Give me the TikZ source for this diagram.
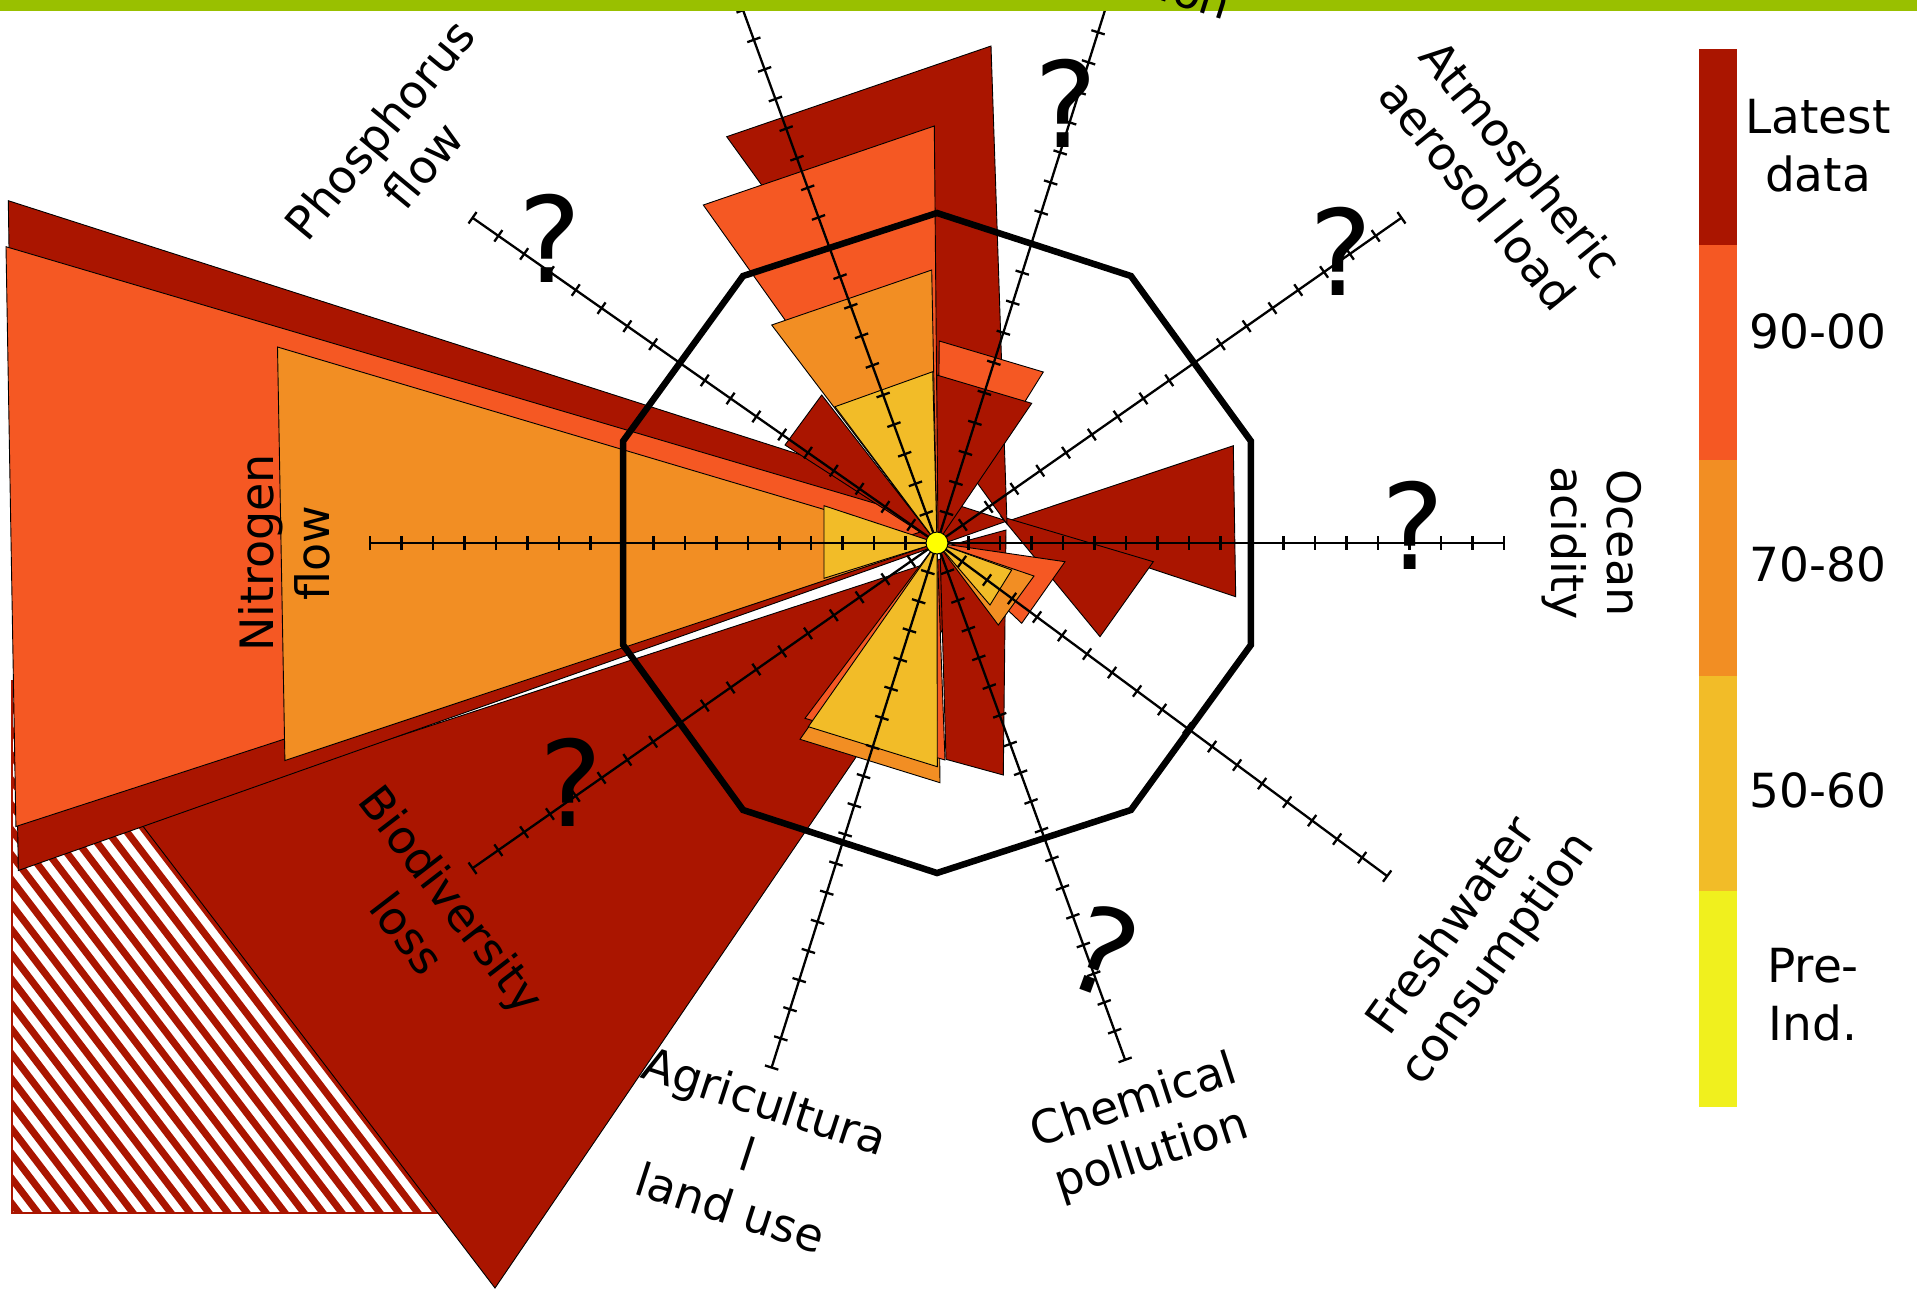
\documentclass[tikz,border=0pt]{standalone}
\usepackage{fontspec}
\setmainfont{DejaVu Sans}
\definecolor{cLat}{RGB}{170,21,0}
\definecolor{cNin}{RGB}{245,88,35}
\definecolor{cSev}{RGB}{242,142,35}
\definecolor{cFif}{RGB}{242,188,40}
\definecolor{cPre}{RGB}{240,240,30}
\definecolor{cDot}{RGB}{255,255,0}
\definecolor{cGreen}{RGB}{153,192,0}
\tikzset{
 wedge/.style={draw=black, line width=0.9pt, line join=miter},
 wLat/.style={wedge, fill=cLat},
 wNin/.style={wedge, fill=cNin},
 wSev/.style={wedge, fill=cSev},
 wFif/.style={wedge, fill=cFif},
 axisline/.style={draw=black, line width=2.3pt},
 boundary/.style={draw=black, line width=6.5pt, line join=miter},
 lab/.style={font=\fontsize{46}{56}\selectfont, align=center, inner sep=0pt},
 qmark/.style={font=\fontsize{119}{119}\selectfont, inner sep=0pt},
 legtext/.style={font=\fontsize{47}{58}\selectfont, align=center, inner sep=0pt},
}
\begin{document}
\begin{tikzpicture}[x=1pt,y=-1pt]
\useasboundingbox (0,0) rectangle (1917,1291);
\clip (0,0) rectangle (1917,1291);
\fill[white] (0,0) rectangle (1917,1291);
\coordinate (C) at (937,543);

% hatched area
\begin{scope}
 \clip (12,680) rectangle (440,1213);
 \foreach \b in {0,19,...,893} \draw[cLat, line width=7pt] ({\b+10},1226) -- ({\b-420},663);
\end{scope}
\draw[cLat, line width=2pt] (12,680) -- (12,1213) -- (440,1213);

% biodiversity
\draw[wLat] (1005,538) -- (495,1288) -- (139,821) -- cycle;
% nitrogen
\draw[wLat] (8.3,200.7) -- (1007,521) -- (18.3,870.5) -- cycle;
\draw[wNin] (6,246.7) -- (945,524) -- (15.9,826.5) -- cycle;
\draw[wSev] (277.5,347) -- (C) -- (284.9,760.5) -- cycle;
\draw[wFif] (824,505.7) -- (C) -- (824,578.3) -- cycle;
% ocean acidity
\draw[wLat] (1233.3,445.7) -- (1235.7,596.7) -- (1008,521) -- cycle;
% agricultural latest
\draw[wLat] (946,759.3) -- (1003.3,775) -- (1006,530) -- (940,548) -- cycle;
% freshwater
\draw[wLat] (1153.3,561.7) -- (1100,636.7) -- (1001,516.5) -- cycle;
\draw[wNin] (1065,561.7) -- (1021.7,623.3) -- (C) -- cycle;
\draw[wSev] (1034,576) -- (998.3,625) -- (C) -- cycle;
\draw[wFif] (1011.7,570) -- (990,605) -- (C) -- cycle;
% phosphorus
\draw[wLat] (821.7,395) -- (785,445) -- (C) -- cycle;
% top-left latest
\draw[wLat] (726.7,136.7) -- (991,46) -- (1007,524) -- cycle;
% top-right
\draw[wNin] (939.3,341) -- (1043.3,372) -- (C) -- cycle;
\draw[wLat] (936.7,375) -- (1031.7,403.3) -- (C) -- cycle;
% top-left older
\draw[wNin] (703.3,205) -- (934.3,126) -- (938,535) -- cycle;
\draw[wSev] (771.7,325) -- (931.7,270) -- (C) -- cycle;
\draw[wFif] (835,406.7) -- (932.7,371.7) -- (C) -- cycle;
% agricultural older
\draw[wSev] (800,739.3) -- (940,782.7) -- (C) -- cycle;
\draw[wNin] (805,718.3) -- (945,760) -- (C) -- cycle;
\draw[wFif] (808.3,726.7) -- (937.3,766.7) -- (C) -- cycle;

% axes
\foreach \a/\L/\s in {0/567/31.5, 35/567/31.5, 72.5/567/31.5, 110/567/31.5, 145/567/31.5, 180/567/31.5, 215/567/31.5, 252.5/550/30.556, 290/550/30.556, 323.5/560/31.111}{
 \begin{scope}[shift={(C)}, rotate=\a]
  \draw[axisline] (0,0) -- (\L,0);
  \foreach \k in {1,...,18} \draw[axisline] ({\k*\s},-7) -- ({\k*\s},7);
 \end{scope}
}

% boundary decagon
\foreach \i in {0,...,9} \coordinate (D\i) at ({937+330*cos(90+36*\i)},{543-330*sin(90+36*\i)});
\draw[boundary] (D0) -- (D1) -- (D2) -- (D3) -- (D4) -- (D5) -- (D6) -- (D7) -- (D8) -- (D9) -- cycle;

\node[circle, fill=cDot, draw=black, line width=1pt, minimum size=22pt, inner sep=0pt] (dot) at (C) {};

% top bar
\fill[cGreen] (0,0) rectangle (1917,11);

% question marks
\node[qmark] (q1) at (1066,103) {?};
\node[qmark] (q2) at (550,238) {?};
\node[qmark] (q3) at (1341,251) {?};
\node[qmark] (q4) at (1413,525) {?};
\node[qmark] (q5) at (571,782) {?};
\node[qmark, rotate=-20] (q6) at (1103,951) {?};

% labels
\node[lab, rotate=-90] (lOcean) at (1592,543) {Ocean\\acidity};
\node[lab, rotate=-51] (lAtm) at (1500,177) {Atmospheric\\aerosol load};
\node[lab, rotate=54.5] (lFresh) at (1476,943) {Freshwater\\consumption};
\node[lab, rotate=18] (lChem) at (1143,1129) {Chemical\\pollution};
\node[lab, rotate=-18] (lAgri) at (748,1154) {Agricultura\\l\\land use};
\node[lab, rotate=-52.5] (lBio) at (430,916) {Biodiversity\\loss};
\node[lab, rotate=90] (lNit) at (284,553) {Nitrogen\\flow};
\node[lab, rotate=50.4] (lPhos) at (401,147) {Phosphorus\\flow};
\node[lab, rotate=-17.5, anchor=south east] (lOzone) at (1222,30) {Ozone\\depletion};
\node[lab, rotate=20, anchor=south west] (lClim) at (646,12) {Climate\\change};

% legend
\fill[cLat] (1699,49) rectangle (1737,244.5);
\fill[cNin] (1699,244.5) rectangle (1737,459.7);
\fill[cSev] (1699,459.7) rectangle (1737,676.1);
\fill[cFif] (1699,676.1) rectangle (1737,891.3);
\fill[cPre] (1699,891.3) rectangle (1737,1106.5);
\node[legtext] (t1) at (1818,146) {Latest\\data};
\node[legtext] (t2) at (1818,331) {90-00};
\node[legtext] (t3) at (1818,564) {70-80};
\node[legtext] (t4) at (1818,790) {50-60};
\node[legtext] (t5) at (1813,995) {Pre-\\Ind.};
\end{tikzpicture}
\end{document}
